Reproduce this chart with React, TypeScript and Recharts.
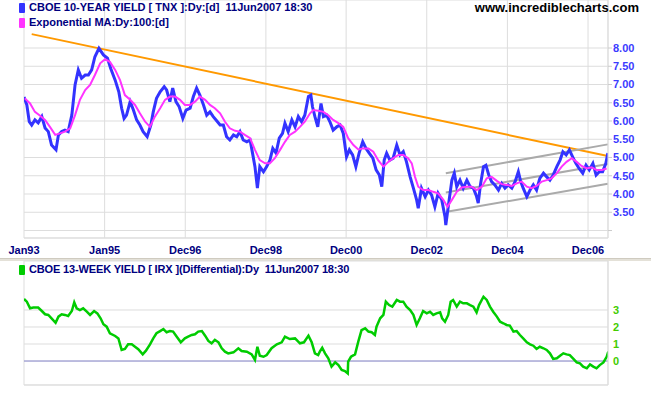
import { ComposedChart, Line, XAxis, YAxis, CartesianGrid, ReferenceLine } from 'recharts';

// time axis in decimal years, ticks are spaced every ~500 bars
const tickYears = [1993.0, 1994.99, 1996.98, 1998.97, 2000.95, 2002.94, 2004.93, 2006.92];
const tickLabels = ['Jan93', 'Jan95', 'Dec96', 'Dec98', 'Dec00', 'Dec02', 'Dec04', 'Dec06'];
const tnxTicks = [3, 3.5, 4, 4.5, 5, 5.5, 6, 6.5, 7, 7.5, 8];
const irxTicks = [0, 1, 2, 3];

// CBOE 10-year yield (TNX)
const tnx: [number, number][] = [
  [1993.0, 6.66], [1993.07, 6.44], [1993.13, 5.98], [1993.19, 5.89], [1993.27, 6.03], [1993.35, 5.95],
  [1993.44, 6.12], [1993.52, 5.81], [1993.6, 5.71], [1993.68, 5.34], [1993.79, 5.21], [1993.85, 5.62],
  [1993.93, 5.71], [1994.01, 5.75], [1994.09, 5.71], [1994.18, 6.16], [1994.26, 6.99], [1994.34, 7.4],
  [1994.42, 7.17], [1994.51, 7.26], [1994.59, 7.26], [1994.67, 7.4], [1994.75, 7.76], [1994.85, 7.99],
  [1994.96, 7.81], [1995.06, 7.72], [1995.14, 7.44], [1995.25, 7.12], [1995.34, 6.8], [1995.41, 6.35],
  [1995.47, 6.07], [1995.53, 6.16], [1995.62, 6.53], [1995.7, 6.3], [1995.78, 6.03], [1995.86, 5.89],
  [1995.94, 5.71], [1996.04, 5.57], [1996.13, 5.89], [1996.19, 6.25], [1996.27, 6.62], [1996.36, 6.8],
  [1996.46, 6.94], [1996.52, 6.85], [1996.6, 6.53], [1996.67, 6.9], [1996.75, 6.53], [1996.83, 6.39],
  [1996.92, 6.07], [1997.0, 6.3], [1997.1, 6.35], [1997.18, 6.67], [1997.26, 6.9], [1997.34, 6.71],
  [1997.43, 6.44], [1997.51, 6.16], [1997.59, 6.25], [1997.67, 6.12], [1997.76, 6.0], [1997.84, 5.89],
  [1997.92, 5.89], [1998.0, 5.57], [1998.08, 5.48], [1998.17, 5.62], [1998.25, 5.57], [1998.33, 5.71],
  [1998.41, 5.48], [1998.5, 5.43], [1998.58, 5.48], [1998.64, 5.12], [1998.7, 4.75], [1998.76, 4.16],
  [1998.82, 4.75], [1998.91, 4.61], [1998.99, 4.75], [1999.07, 4.93], [1999.14, 5.25], [1999.22, 5.12],
  [1999.3, 5.53], [1999.38, 5.66], [1999.44, 5.94], [1999.52, 5.71], [1999.61, 6.03], [1999.69, 5.84],
  [1999.77, 6.12], [1999.85, 5.98], [1999.93, 6.16], [2000.02, 6.67], [2000.08, 6.71], [2000.12, 6.39],
  [2000.18, 6.12], [2000.25, 5.84], [2000.33, 6.48], [2000.39, 6.12], [2000.47, 6.16], [2000.55, 5.98],
  [2000.63, 5.75], [2000.72, 5.84], [2000.8, 5.89], [2000.88, 5.66], [2000.96, 5.02], [2001.03, 5.21],
  [2001.11, 5.07], [2001.19, 4.75], [2001.27, 5.12], [2001.36, 5.43], [2001.44, 5.25], [2001.52, 5.12],
  [2001.61, 4.98], [2001.69, 4.66], [2001.77, 4.52], [2001.83, 4.2], [2001.89, 4.93], [2001.95, 5.12],
  [2002.03, 4.93], [2002.11, 4.98], [2002.2, 5.34], [2002.28, 5.07], [2002.36, 5.16], [2002.44, 4.88],
  [2002.53, 4.47], [2002.61, 4.16], [2002.69, 3.84], [2002.73, 3.61], [2002.81, 4.16], [2002.9, 3.93],
  [2002.98, 4.11], [2003.06, 3.97], [2003.14, 3.65], [2003.22, 4.02], [2003.31, 3.84], [2003.39, 3.38],
  [2003.41, 3.15], [2003.47, 3.65], [2003.56, 4.38], [2003.62, 4.57], [2003.68, 4.2], [2003.76, 4.38],
  [2003.84, 4.16], [2003.93, 4.38], [2004.01, 4.2], [2004.09, 4.16], [2004.17, 3.93], [2004.21, 3.75],
  [2004.27, 4.29], [2004.34, 4.75], [2004.4, 4.79], [2004.47, 4.52], [2004.54, 4.34], [2004.62, 4.25],
  [2004.71, 4.11], [2004.79, 4.29], [2004.87, 4.16], [2004.95, 4.25], [2005.04, 4.16], [2005.12, 4.34],
  [2005.2, 4.61], [2005.26, 4.34], [2005.32, 4.16], [2005.41, 3.93], [2005.49, 4.11], [2005.57, 4.25],
  [2005.65, 4.11], [2005.73, 4.43], [2005.82, 4.57], [2005.9, 4.47], [2005.98, 4.38], [2006.06, 4.52],
  [2006.15, 4.75], [2006.23, 4.93], [2006.3, 5.16], [2006.38, 5.07], [2006.46, 5.21], [2006.54, 5.02],
  [2006.62, 4.84], [2006.7, 4.7], [2006.79, 4.57], [2006.87, 4.79], [2006.95, 4.66], [2007.04, 4.84],
  [2007.12, 4.52], [2007.2, 4.61], [2007.28, 4.61], [2007.36, 4.84], [2007.41, 5.12],
];

// exponential MA 100 days
const ema: [number, number][] = [
  [1993.02, 6.62], [1993.15, 6.48], [1993.27, 6.25], [1993.39, 6.15], [1993.52, 6.03], [1993.64, 5.84],
  [1993.77, 5.62], [1993.89, 5.66], [1994.01, 5.71], [1994.14, 5.8], [1994.26, 6.16], [1994.38, 6.58],
  [1994.51, 6.85], [1994.63, 6.99], [1994.75, 7.26], [1994.88, 7.58], [1995.0, 7.69], [1995.12, 7.62],
  [1995.25, 7.4], [1995.37, 7.12], [1995.49, 6.71], [1995.62, 6.58], [1995.74, 6.44], [1995.86, 6.21],
  [1995.99, 5.98], [1996.11, 5.84], [1996.23, 6.12], [1996.36, 6.35], [1996.48, 6.58], [1996.6, 6.67],
  [1996.73, 6.67], [1996.85, 6.58], [1996.97, 6.44], [1997.1, 6.44], [1997.22, 6.53], [1997.34, 6.67],
  [1997.47, 6.58], [1997.59, 6.44], [1997.71, 6.35], [1997.84, 6.21], [1997.96, 5.98], [1998.08, 5.8],
  [1998.21, 5.73], [1998.33, 5.71], [1998.45, 5.62], [1998.58, 5.53], [1998.7, 5.21], [1998.82, 4.93],
  [1998.95, 4.84], [1999.07, 4.84], [1999.19, 4.98], [1999.32, 5.21], [1999.44, 5.43], [1999.56, 5.62],
  [1999.69, 5.71], [1999.81, 5.84], [1999.93, 5.98], [2000.06, 6.21], [2000.14, 6.3], [2000.26, 6.28],
  [2000.39, 6.25], [2000.51, 6.16], [2000.63, 6.03], [2000.76, 5.94], [2000.88, 5.84], [2001.0, 5.53],
  [2001.13, 5.34], [2001.25, 5.22], [2001.37, 5.25], [2001.5, 5.25], [2001.62, 5.16], [2001.74, 4.93],
  [2001.87, 4.75], [2001.99, 4.88], [2002.11, 4.98], [2002.24, 5.07], [2002.36, 5.07], [2002.48, 4.98],
  [2002.57, 4.84], [2002.65, 4.47], [2002.73, 4.2], [2002.85, 4.11], [2002.98, 4.11], [2003.1, 4.06],
  [2003.22, 4.02], [2003.35, 3.84], [2003.45, 3.65], [2003.56, 3.84], [2003.68, 4.06], [2003.8, 4.18],
  [2003.93, 4.2], [2004.05, 4.2], [2004.17, 4.11], [2004.3, 4.2], [2004.42, 4.43], [2004.54, 4.47],
  [2004.67, 4.36], [2004.79, 4.27], [2004.91, 4.25], [2005.04, 4.22], [2005.16, 4.29], [2005.28, 4.34],
  [2005.41, 4.2], [2005.53, 4.16], [2005.65, 4.22], [2005.78, 4.34], [2005.9, 4.38], [2006.02, 4.43],
  [2006.15, 4.57], [2006.27, 4.75], [2006.39, 4.88], [2006.52, 4.98], [2006.64, 4.88], [2006.76, 4.77],
  [2006.89, 4.7], [2007.01, 4.73], [2007.13, 4.66], [2007.26, 4.66], [2007.38, 4.7],
];

// trend lines drawn on the chart
const orangeTrend: [number, number][] = [[1993.19, 8.38], [2007.41, 5.04]];
const channelTop: [number, number][] = [[2003.41, 4.57], [2007.41, 5.36]];
const channelMid: [number, number][] = [[2003.41, 4.04], [2007.41, 4.82]];
const channelLow: [number, number][] = [[2003.47, 3.52], [2007.41, 4.28]];

// CBOE 13-week yield (IRX), differential
const irx: [number, number][] = [
  [1993.0, 3.65], [1993.07, 3.49], [1993.15, 3.1], [1993.23, 3.14], [1993.35, 3.14], [1993.44, 2.94],
  [1993.52, 2.75], [1993.6, 2.71], [1993.68, 2.51], [1993.78, 2.25], [1993.85, 2.61], [1993.93, 2.75],
  [1994.01, 2.71], [1994.09, 2.65], [1994.18, 2.94], [1994.24, 3.45], [1994.3, 3.1], [1994.38, 3.0],
  [1994.46, 3.1], [1994.55, 2.9], [1994.63, 2.71], [1994.73, 2.94], [1994.81, 2.8], [1994.89, 2.51],
  [1994.96, 2.16], [1995.04, 2.02], [1995.12, 1.63], [1995.25, 1.47], [1995.33, 1.33], [1995.41, 0.65],
  [1995.49, 0.71], [1995.57, 0.98], [1995.66, 0.98], [1995.74, 0.84], [1995.82, 0.69], [1995.93, 0.39],
  [1996.01, 0.61], [1996.11, 0.98], [1996.19, 1.33], [1996.27, 1.63], [1996.36, 1.76], [1996.44, 1.88],
  [1996.52, 1.69], [1996.6, 1.76], [1996.68, 1.73], [1996.77, 1.43], [1996.87, 1.1], [1996.97, 1.33],
  [1997.05, 1.43], [1997.14, 1.53], [1997.22, 1.57], [1997.3, 1.73], [1997.39, 1.76], [1997.47, 1.49],
  [1997.55, 1.18], [1997.63, 1.04], [1997.71, 1.24], [1997.8, 1.1], [1997.88, 0.75], [1997.96, 0.55],
  [1998.04, 0.45], [1998.17, 0.51], [1998.29, 0.75], [1998.37, 0.59], [1998.5, 0.55], [1998.62, 0.39],
  [1998.7, 0.06], [1998.76, 0.84], [1998.82, 0.31], [1998.91, 0.25], [1998.99, 0.35], [1999.11, 0.75],
  [1999.24, 0.98], [1999.36, 1.1], [1999.44, 1.43], [1999.56, 1.29], [1999.69, 1.33], [1999.81, 1.04],
  [1999.91, 1.1], [2000.02, 1.49], [2000.1, 1.1], [2000.18, 0.45], [2000.26, 0.35], [2000.3, 0.55],
  [2000.36, 0.78], [2000.43, 0.45], [2000.51, 0.16], [2000.59, -0.33], [2000.68, -0.08], [2000.76, -0.24],
  [2000.84, -0.53], [2000.92, -0.59], [2000.99, -0.73], [2001.0, -0.04], [2001.07, 0.25], [2001.17, 0.39],
  [2001.25, 1.14], [2001.33, 1.82], [2001.42, 1.92], [2001.5, 1.73], [2001.58, 1.69], [2001.66, 1.53],
  [2001.7, 2.02], [2001.79, 2.51], [2001.87, 2.71], [2001.93, 3.49], [2002.01, 3.29], [2002.09, 3.2],
  [2002.2, 3.59], [2002.28, 3.49], [2002.36, 3.49], [2002.44, 3.2], [2002.53, 3.0], [2002.61, 2.71],
  [2002.69, 2.12], [2002.77, 2.51], [2002.85, 2.94], [2002.94, 2.8], [2003.02, 2.9], [2003.1, 2.71],
  [2003.18, 2.8], [2003.27, 2.86], [2003.32, 2.51], [2003.39, 2.31], [2003.47, 2.71], [2003.53, 3.49],
  [2003.59, 3.59], [2003.68, 3.2], [2003.76, 3.49], [2003.84, 3.39], [2003.93, 3.39], [2004.01, 3.29],
  [2004.09, 3.2], [2004.17, 2.86], [2004.23, 3.29], [2004.34, 3.78], [2004.42, 3.59], [2004.5, 3.2],
  [2004.58, 2.9], [2004.67, 2.61], [2004.75, 2.31], [2004.83, 2.22], [2004.91, 2.12], [2004.99, 2.08],
  [2005.08, 1.73], [2005.16, 1.76], [2005.24, 1.53], [2005.32, 1.33], [2005.41, 1.1], [2005.49, 0.98],
  [2005.57, 0.9], [2005.65, 0.71], [2005.73, 0.84], [2005.82, 0.75], [2005.9, 0.65], [2005.98, 0.45],
  [2006.06, 0.12], [2006.15, 0.16], [2006.23, 0.31], [2006.31, 0.45], [2006.39, 0.39], [2006.47, 0.35],
  [2006.56, 0.12], [2006.64, -0.08], [2006.72, -0.14], [2006.8, -0.33], [2006.89, -0.43], [2006.97, -0.2],
  [2007.05, -0.33], [2007.13, -0.43], [2007.21, -0.24], [2007.3, -0.08], [2007.38, 0.25], [2007.42, 0.55],
];

const toRows = (pts: [number, number][]) => pts.map(([t, v]) => ({ t, v }));

const FONT = '"Liberation Sans", Arial, sans-serif';
const X_DOMAIN: [number, number] = [1993.0, 2007.413];

const legendText = {
  position: 'absolute' as const,
  fontFamily: FONT,
  fontSize: 11,
  fontWeight: 700,
  color: '#000080',
  whiteSpace: 'pre' as const,
  lineHeight: '13px',
};

function Swatch({ color, top }: { color: string; top: number }) {
  return (
    <div
      style={{ position: 'absolute', left: 19, top, width: 6, height: 10, background: color, borderRadius: 1 }}
    />
  );
}

export default function App() {
  const xTickFmt = (v: number) => {
    const i = tickYears.indexOf(v);
    return i >= 0 ? tickLabels[i] : '';
  };

  return (
    <div style={{ position: 'absolute', left: 0, top: 0, width: 651, height: 395, background: '#fff', overflow: 'hidden' }}>
      {/* TNX panel */}
      <div style={{ position: 'absolute', left: 0, top: 0 }}>
        <ComposedChart width={651} height={258} margin={{ top: 0, right: 0, left: 24, bottom: 0 }}>
          <CartesianGrid stroke="#dddddd" />
          <XAxis
            type="number"
            dataKey="t"
            domain={X_DOMAIN}
            ticks={tickYears}
            allowDataOverflow
            height={20}
            interval={0}
            tickFormatter={xTickFmt}
            tickLine={false}
            axisLine={{ stroke: '#dddddd' }}
            tick={{ fill: '#000080', fontSize: 11, fontWeight: 700, fontFamily: FONT }}
          />
          <YAxis
            orientation="right"
            type="number"
            domain={[2.795, 9.315]}
            ticks={tnxTicks}
            allowDataOverflow
            width={43}
            interval={0}
            tickSize={4}
            tickMargin={1}
            tickFormatter={(v: number) => (v === 3 ? '' : v.toFixed(2))}
            tickLine={{ stroke: '#cccccc' }}
            axisLine={{ stroke: '#dddddd' }}
            tick={{ fill: '#3b3bff', fontSize: 11, fontWeight: 700, fontFamily: FONT, textAnchor: 'start' }}
          />
          <Line data={toRows(orangeTrend)} dataKey="v" stroke="#ff9900" strokeWidth={2} dot={false} isAnimationActive={false} />
          <Line data={toRows(channelTop)} dataKey="v" stroke="#aaaaaa" strokeWidth={2} dot={false} isAnimationActive={false} />
          <Line data={toRows(channelMid)} dataKey="v" stroke="#aaaaaa" strokeWidth={2} dot={false} isAnimationActive={false} />
          <Line data={toRows(channelLow)} dataKey="v" stroke="#aaaaaa" strokeWidth={2} dot={false} isAnimationActive={false} />
          <Line data={toRows(tnx)} dataKey="v" stroke="#3333ff" strokeWidth={3} dot={false} isAnimationActive={false} />
          <Line data={toRows(ema)} dataKey="v" stroke="#ff33ff" strokeWidth={2} dot={false} isAnimationActive={false} />
        </ComposedChart>
      </div>
      <Swatch color="#3333ff" top={3} />
      <Swatch color="#ff33ff" top={18} />
      <div style={{ ...legendText, left: 29, top: 1 }}>{'CBOE 10-YEAR YIELD [ TNX ]:Dy:[d]  11Jun2007 18:30'}</div>
      <div style={{ ...legendText, left: 29, top: 16 }}>{'Exponential MA:Dy:100:[d]'}</div>
      <div style={{ ...legendText, right: 12, top: 1, color: '#000000', fontSize: 13 }}>www.incrediblecharts.com</div>

      {/* separator between panels */}
      <div style={{ position: 'absolute', left: 0, top: 258, width: 651, height: 3, background: '#e4e1d8', borderTop: '1px solid #cfcbc0', boxSizing: 'border-box' }} />

      {/* IRX panel */}
      <div style={{ position: 'absolute', left: 0, top: 258 }}>
        <ComposedChart width={651} height={137} margin={{ top: 3, right: 0, left: 24, bottom: 0 }}>
          <CartesianGrid stroke="#dddddd" />
          <XAxis
            type="number"
            dataKey="t"
            domain={X_DOMAIN}
            ticks={tickYears}
            allowDataOverflow
            height={10}
            interval={0}
            tick={false}
            tickLine={false}
            axisLine={{ stroke: '#dddddd' }}
          />
          <YAxis
            orientation="right"
            type="number"
            domain={[-1.41, 5.88]}
            ticks={irxTicks}
            allowDataOverflow
            width={43}
            interval={0}
            tickSize={4}
            tickMargin={1}
            tickLine={false}
            axisLine={{ stroke: '#dddddd' }}
            tick={{ fill: '#44cc00', fontSize: 11, fontWeight: 700, fontFamily: FONT, textAnchor: 'start' }}
          />
          <ReferenceLine y={0} stroke="#8c8cd0" strokeWidth={1} />
          <Line data={toRows(irx)} dataKey="v" stroke="#00cc00" strokeWidth={2.5} dot={false} isAnimationActive={false} />
        </ComposedChart>
      </div>
      <Swatch color="#00cc00" top={265} />
      <div style={{ ...legendText, left: 29, top: 263, letterSpacing: -0.15 }}>{'CBOE 13-WEEK YIELD [ IRX ](Differential):Dy  11Jun2007 18:30'}</div>
    </div>
  );
}
